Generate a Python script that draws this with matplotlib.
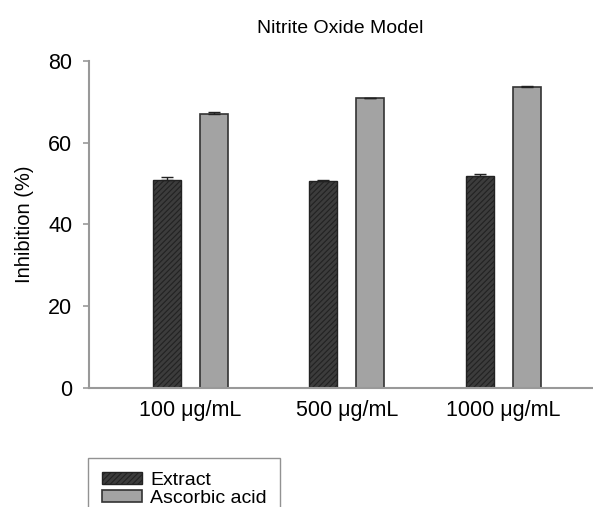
import matplotlib.pyplot as plt
import numpy as np

plt.rcParams['font.family'] = ['Liberation Sans', 'DejaVu Sans']
plt.rcParams['hatch.color'] = '#777777'
plt.rcParams['hatch.linewidth'] = 0.8

groups = ['100 \u03bcg/mL', '500 \u03bcg/mL', '1000 \u03bcg/mL']
extract = [50.9, 50.5, 51.9]
extract_err = [0.7, 0.4, 0.3]
ascorbic = [67.0, 70.9, 73.5]
ascorbic_err = [0.4, 0.0, 0.4]

fig = plt.figure(figsize=(5.93, 5.07), dpi=100)
ax = fig.add_axes([0.150, 0.235, 0.848, 0.645])

x = np.arange(len(groups))
w = 0.18
off = 0.15

b1 = ax.bar(x - off, extract, w, color='#3c3c3c', edgecolor='#222222',
            hatch='//////', linewidth=1, label='Extract')
b2 = ax.bar(x + off, ascorbic, w, color='#a3a3a3', edgecolor='#333333',
            linewidth=1.2, label='Ascorbic acid')
ax.errorbar(x - off, extract, yerr=[np.zeros(3), extract_err], fmt='none',
            ecolor='#222222', elinewidth=1, capsize=4, capthick=1)
ax.errorbar(x + off, ascorbic, yerr=[np.zeros(3), ascorbic_err], fmt='none',
            ecolor='#222222', elinewidth=1, capsize=4, capthick=1)

ax.set_xlim(-0.65, 2.567)
ax.set_ylim(0, 80)
ax.set_yticks([0, 20, 40, 60, 80])
ax.set_xticks(x)
ax.set_xticklabels(groups, fontsize=15.5)
ax.tick_params(axis='y', labelsize=15.5, direction='out', length=4, color='#999999', width=1.2, pad=8)
ax.tick_params(axis='x', length=0, pad=9)
for s in ['top', 'right']:
    ax.spines[s].set_visible(False)
for s in ['left', 'bottom']:
    ax.spines[s].set_color('#999999')
    ax.spines[s].set_linewidth(1.5)

ax.set_ylabel('Inhibition (%)', fontsize=14.5, labelpad=10)
ax.set_title('Nitrite Oxide Model', fontsize=14, pad=20)

fig.legend(handles=[b1, b2], loc='upper left',
           bbox_to_anchor=(88 / 593, 1 - 458 / 507), fontsize=14,
           frameon=True, fancybox=False, edgecolor='#777777',
           borderpad=0.7, handlelength=2.1, handleheight=0.6,
           labelspacing=0.05, handletextpad=0.4, borderaxespad=0)

fig.savefig('out.png', dpi=100)
